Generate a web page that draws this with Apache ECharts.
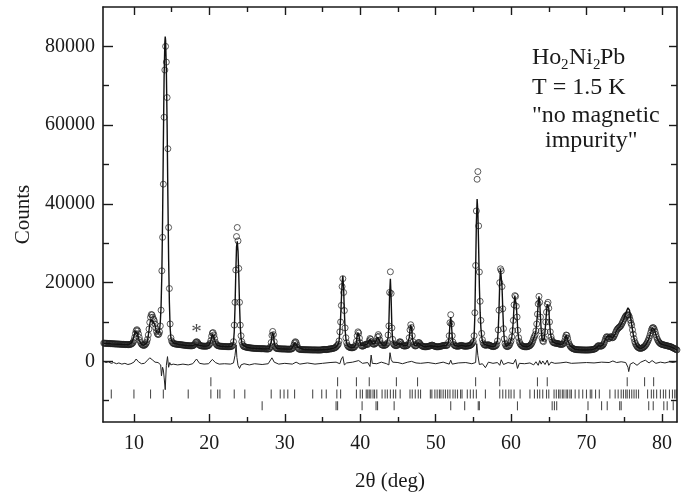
<!DOCTYPE html>
<html><head><meta charset="utf-8">
<script src="https://cdn.jsdelivr.net/npm/echarts@6/dist/echarts.min.js"></script>
<style>html,body{margin:0;padding:0;background:#fff}#c{width:691px;height:497px}</style>
</head><body><div id="c"></div>
<script>
// ---- data ----
const obsStart = 6.0, obsStep = 0.1;
const observedCounts = [
4650,4580,4620,4540,4600,4560,4510,4580,4530,4490,
4520,4460,4500,4430,4470,4410,4450,4390,4420,4380,
4400,4350,4380,4320,4350,4300,4330,4280,4310,4260,
4290,4240,4270,4230,4260,4300,4350,4450,4600,4850,
5300,6100,7100,7800,8050,7750,7000,6100,5300,4750,
4400,4200,4100,4050,4100,4250,4500,4900,5600,6700,
8200,9900,11200,11900,11800,11200,10700,10300,9500,8500,
7600,7000,6800,6900,7500,9000,13000,23000,31500,45000,
62000,74000,80000,76000,67000,54000,34000,18500,9500,6000,
5200,4800,4600,4500,4450,4400,4380,4350,4320,4300,
4280,4250,4230,4200,4180,4150,4130,4100,4080,4050,
4030,4000,3980,3970,3960,3950,3940,3950,3980,4050,
4200,4500,4850,5000,4900,4600,4300,4100,4000,3950,
3900,3880,3870,3860,3850,3850,3860,3900,3950,4050,
4250,4600,5300,6400,7200,7300,6700,5800,4900,4400,
4150,4000,3950,3900,3870,3850,3840,3820,3800,3780,
3770,3760,3750,3740,3730,3720,3720,3730,3750,3800,
3850,4100,5000,9200,15000,23200,31700,34000,30600,23600,
15000,9200,6500,5000,4300,3900,3750,3700,3650,3600,
3550,3500,3480,3450,3430,3400,3380,3360,3340,3320,
3300,3290,3280,3270,3260,3250,3240,3230,3220,3210,
3200,3250,3200,3180,3170,3160,3150,3140,3150,3180,
3300,3700,4800,6600,7600,6800,5000,3900,3450,3300,
3250,3220,3200,3190,3180,3170,3160,3150,3150,3150,
3140,3130,3120,3110,3100,3100,3100,3100,3120,3150,
3250,3500,4100,4700,5000,4800,4200,3600,3250,3100,
3050,3020,3000,2990,2980,2970,2960,2950,2950,2940,
2940,2930,2930,2920,2920,2910,2910,2900,2900,2900,
2900,2900,2890,2890,2880,2880,2880,2880,2900,2920,
2950,3000,3050,3020,3000,2980,3000,3050,3100,3150,
3150,3150,3200,3250,3300,3350,3400,3500,3650,3900,
4100,4400,5200,7500,10000,14200,19000,21000,17500,12900,
8500,6000,4700,4100,3800,3650,3550,3500,3450,3450,
3450,3500,3600,3800,4200,5100,6500,7500,7200,5900,
4700,4100,3900,3850,3900,4000,4150,4300,4350,4300,
4300,4600,5200,5800,5600,5000,4600,4400,4350,4400,
4500,4700,5200,6200,6800,6400,5400,4700,4300,4150,
4100,4050,4050,4100,4200,4350,4700,6700,9000,17500,
22750,17250,8500,5600,4500,4200,4050,4000,4000,4050,
4200,4500,4900,5000,4800,4400,4100,3950,3900,3900,
3900,3950,4000,4150,4500,6000,8000,9300,8600,6500,
5000,4300,4000,3900,3950,4100,4450,4750,4800,4550,
4250,4050,3900,3800,3750,3720,3700,3700,3720,3750,
3800,3850,3900,3950,4050,4150,4100,4000,3900,3800,
3750,3700,3700,3700,3720,3750,3800,3850,3900,3950,
4000,4050,4100,4050,4000,4050,4250,4800,6500,9800,
11850,9500,6500,4900,4300,4050,3950,3900,3850,3850,
3850,3900,3950,4000,4050,4000,3950,3900,3850,3850,
3850,3850,3900,3900,3950,4000,4100,4200,4400,4700,
5000,6500,12350,24350,38200,46250,48200,34400,22700,15250,
10400,7100,5500,4700,4300,4150,4100,4100,4150,4200,
4200,4150,4050,3950,3850,3800,3750,3750,3800,3900,
4000,4300,5200,8000,13000,20000,23500,23000,19000,13350,
8300,5700,4500,4000,3800,3750,3800,3950,4200,4700,
5200,6200,7800,10400,14350,16700,16500,14000,11250,7900,
6000,5000,4500,4200,4000,3900,3800,3750,3700,3700,
3700,3700,3750,3800,3900,4000,4200,4450,4800,5300,
5900,6300,6800,7750,9500,12000,14600,16500,15000,11250,
7700,5900,5200,5000,5800,7500,10000,12500,14500,15000,
13500,10000,7500,6250,5500,5000,4800,4700,4650,4600,
4600,4550,4500,4450,4400,4350,4300,4300,4350,4400,
4700,5200,6100,6700,6600,5900,5000,4400,4000,3700,
3500,3350,3250,3150,3100,3050,3000,2980,2960,2950,
2940,2930,2920,2910,2900,2900,2900,2890,2880,2880,
2880,2880,2890,2900,2900,2920,2940,2960,3000,3050,
3100,3150,3250,3400,3650,3900,4000,3950,3850,3850,
3900,4000,4200,4500,5000,5600,6100,6300,6100,5800,
5800,6100,6300,6200,6000,6000,6200,6600,7000,7500,
7900,8200,8400,8600,8750,8900,9200,9600,10000,10400,
10800,11200,11500,11700,11850,11800,11700,11200,10500,9700,
9200,8000,6900,5800,5000,4500,4100,3800,3600,3450,
3350,3300,3300,3350,3400,3500,3650,3800,4000,4300,
4600,5000,5400,5900,6500,7200,7900,8400,8600,8500,
8100,7500,6800,6100,5600,5200,4900,4700,4500,4400,
4300,4250,4200,4150,4100,4050,4000,3950,3900,3850,
3800,3750,3700,3600,3500,3400,3300,3200,3100,3000,
2900
];
const calculated = [[6,4600],[6.5,4550],[7,4450],[7.5,4380],[8,4330],[8.5,4280],[9,4250],[9.3,4250],[9.5,4320],[9.7,4700],[9.9,5700],[10.0,6300],[10.1,7100],[10.2,7700],[10.3,7900],[10.4,7600],[10.5,6900],[10.6,6000],[10.7,5300],[10.8,4800],[11.0,4300],[11.3,4080],[11.5,4150],[11.7,4700],[11.8,5300],[11.9,6500],[12.0,7900],[12.1,9400],[12.2,10400],[12.3,10700],[12.4,10500],[12.5,10300],[12.6,10200],[12.7,9900],[12.8,9200],[12.9,8200],[13.0,7300],[13.1,6900],[13.2,6800],[13.3,7200],[13.4,8000],[13.5,10000],[13.6,14000],[13.7,22000],[13.8,36000],[13.9,55000],[14.0,72000],[14.1,81000],[14.15,82500],[14.2,81500],[14.3,74000],[14.4,60000],[14.5,42000],[14.6,26000],[14.7,15000],[14.8,8500],[14.9,6000],[15.0,5200],[15.3,4600],[15.7,4450],[16,4250],[16.5,4150],[17,4000],[17.5,3950],[17.8,3960],[18.0,4050],[18.2,4300],[18.3,4400],[18.4,4350],[18.6,4100],[18.8,3950],[19.2,3880],[19.6,3870],[19.9,4000],[20.1,4500],[20.2,5200],[20.3,6200],[20.4,6900],[20.5,7000],[20.6,6500],[20.7,5600],[20.8,4800],[21.0,4100],[21.5,3850],[22,3780],[22.5,3730],[23.0,3850],[23.1,4050],[23.2,4900],[23.3,7500],[23.4,13500],[23.5,22000],[23.6,29000],[23.7,30500],[23.8,28000],[23.9,22000],[24.0,14500],[24.1,8800],[24.2,6000],[24.3,4800],[24.4,4200],[24.6,3800],[25,3550],[25.5,3400],[26,3300],[26.5,3250],[27,3200],[27.5,3170],[27.9,3200],[28.0,3300],[28.1,3700],[28.2,4900],[28.3,6500],[28.4,7300],[28.5,6600],[28.6,4900],[28.7,3900],[28.8,3450],[29,3250],[29.5,3180],[30,3140],[30.5,3100],[30.9,3150],[31.1,3500],[31.2,4100],[31.3,4650],[31.4,4900],[31.5,4750],[31.6,4200],[31.7,3600],[31.9,3100],[32.5,2970],[33,2940],[33.5,2910],[34,2900],[34.5,2880],[35,2950],[35.2,3050],[35.5,2990],[36,3150],[36.5,3350],[36.8,3650],[37.0,4100],[37.1,4400],[37.2,5200],[37.3,7500],[37.4,11000],[37.5,15500],[37.6,20000],[37.7,21700],[37.8,18500],[37.9,12500],[38.0,8000],[38.1,5800],[38.2,4600],[38.4,3800],[38.8,3480],[39.2,3600],[39.4,4200],[39.5,5100],[39.6,6400],[39.7,7300],[39.8,7100],[39.9,5900],[40.0,4700],[40.1,4100],[40.3,3850],[40.6,4150],[40.9,4350],[41.1,4700],[41.3,5600],[41.4,5500],[41.6,4600],[41.9,4400],[42.1,4700],[42.3,6100],[42.4,6600],[42.5,6300],[42.7,4700],[43.0,4100],[43.4,4150],[43.6,4600],[43.7,6000],[43.8,9500],[43.9,17000],[44.0,21000],[44.1,16000],[44.2,8500],[44.3,5500],[44.5,4200],[44.8,4050],[45.1,4500],[45.3,5000],[45.5,4400],[45.8,3950],[46.2,4000],[46.4,4500],[46.5,6000],[46.6,8000],[46.7,9200],[46.8,8600],[46.9,6500],[47.0,5000],[47.2,4000],[47.5,4100],[47.7,4700],[47.8,4800],[48.0,4200],[48.4,3750],[48.8,3730],[49.3,3950],[49.5,4150],[49.8,3850],[50.2,3700],[50.6,3780],[51.0,4000],[51.4,4000],[51.6,4250],[51.7,4800],[51.8,6500],[51.9,9500],[52.0,11250],[52.1,9300],[52.2,6300],[52.3,4800],[52.5,4050],[53,3850],[53.4,4050],[54,3850],[54.4,3950],[54.7,4200],[54.9,4700],[55.0,5000],[55.1,6300],[55.2,11500],[55.3,23000],[55.4,35000],[55.5,41250],[55.6,38000],[55.7,29000],[55.8,19000],[55.9,12500],[56.0,8500],[56.1,6400],[56.2,5200],[56.4,4400],[56.8,4100],[57.0,4150],[57.5,3750],[57.9,3900],[58.1,4300],[58.2,5200],[58.3,8000],[58.4,13000],[58.5,20000],[58.6,23500],[58.7,23000],[58.8,19000],[58.9,13350],[59.0,8300],[59.1,5700],[59.2,4500],[59.4,3800],[59.6,3800],[59.9,4700],[60.0,5200],[60.1,6200],[60.2,7800],[60.3,10400],[60.4,14350],[60.5,16700],[60.6,16500],[60.7,14000],[60.8,11000],[60.9,7500],[61.0,5800],[61.2,4500],[61.5,3900],[62.0,3700],[62.4,3900],[62.7,4400],[62.9,5300],[63.1,6300],[63.3,7750],[63.5,12000],[63.6,14600],[63.7,16500],[63.8,15000],[63.9,11250],[64.0,7700],[64.1,5900],[64.2,5200],[64.3,5000],[64.4,5800],[64.5,7500],[64.6,10000],[64.7,12500],[64.8,14500],[64.9,15000],[65.0,13500],[65.1,10000],[65.2,7500],[65.3,6250],[65.5,5000],[65.9,4600],[66.5,4350],[66.9,4400],[67.1,5200],[67.3,6700],[67.4,6600],[67.6,5000],[67.8,4000],[68.0,3500],[68.5,3050],[69,2940],[69.5,2900],[70,2880],[70.5,2920],[71,3100],[71.3,3400],[71.6,4000],[71.9,3850],[72.2,4200],[72.5,5600],[72.7,6300],[72.9,5800],[73.2,6300],[73.5,6000],[73.8,7000],[74.1,8200],[74.4,8750],[74.7,9700],[75.0,11000],[75.3,12700],[75.5,13600],[75.6,13750],[75.7,13000],[75.9,10500],[76.1,8000],[76.3,5800],[76.5,4500],[76.7,3800],[77.0,3350],[77.3,3330],[77.6,3650],[77.9,4300],[78.2,5400],[78.5,7200],[78.7,8400],[78.8,8600],[79.0,8100],[79.2,6800],[79.4,5600],[79.7,4700],[80.0,4300],[80.5,4050],[81.0,3800],[81.5,3400],[82,2900]];
const difference = [[6,0],[6.3,-300],[6.6,-100],[7.0,-500],[7.3,-300],[7.7,-600],[8.0,-400],[8.4,-700],[8.8,-500],[9.2,-800],[9.6,-600],[10.0,-200],[10.3,600],[10.6,-100],[11.0,-600],[11.4,-500],[11.8,300],[12.1,900],[12.3,1300],[12.5,300],[12.8,-200],[13.0,-700],[13.2,-300],[13.4,-300],[13.55,-900],[13.65,-3700],[13.8,-1500],[13.9,-2200],[14.0,-4000],[14.15,-7200],[14.3,-1000],[14.45,1200],[14.6,-1500],[14.75,-300],[14.9,-900],[15.2,-700],[15.8,-900],[16.5,-700],[17.2,-900],[17.8,-600],[18.3,600],[18.7,-500],[19.3,-700],[19.9,-600],[20.4,500],[20.8,-300],[21.3,-700],[22.0,-600],[22.8,-700],[23.2,-400],[23.4,1500],[23.55,4200],[23.65,1000],[23.8,-1000],[24.0,-1800],[24.2,-900],[24.6,-600],[25.3,-900],[26,-600],[27,-800],[27.8,-600],[28.3,900],[28.6,-200],[29.2,-700],[30,-500],[31,-700],[31.5,-200],[32,-700],[33,-400],[34,-700],[35,-500],[36,-300],[36.8,-200],[37.3,-600],[37.5,600],[37.7,1200],[37.9,-900],[38.2,-400],[39,-200],[39.8,200],[40.3,-500],[41.0,-300],[41.3,-1300],[41.45,1600],[41.6,-500],[42.2,-600],[42.8,-200],[43.5,-600],[43.8,-900],[43.95,2200],[44.1,500],[44.3,-200],[45,-300],[45.6,-600],[46.3,-200],[46.8,0],[47.4,-400],[48,-500],[49,-300],[50,-600],[51,-200],[51.8,-700],[52.0,300],[52.2,-700],[53,-400],[54,-300],[54.8,-600],[55.3,-300],[55.45,4500],[55.6,1500],[55.8,-800],[56.2,-600],[56.6,-1600],[57.0,-200],[57.6,-500],[58.2,-300],[58.5,-1000],[58.7,400],[59.0,-800],[59.6,-300],[60.3,-600],[60.6,500],[60.85,-1800],[61.1,-500],[61.8,-600],[62.5,-400],[63.0,-900],[63.3,-100],[63.6,-1000],[63.8,200],[64.0,-700],[64.2,100],[64.5,-800],[64.8,300],[65.0,-1000],[65.3,-200],[65.8,-500],[66.5,-400],[67.3,-200],[68,-500],[69,-400],[70,-300],[71,-400],[72,-200],[73,-300],[73.5,100],[74,-300],[74.6,-100],[75.2,-300],[75.5,-1500],[75.6,-2600],[75.8,-700],[76.2,-300],[76.7,-1000],[77.2,-200],[77.8,300],[78.3,-400],[78.7,200],[79.2,-500],[79.8,-200],[80.4,-400],[81,-100],[81.5,-300],[82,0]];
const braggRow1 = [20.2,37.0,39.5,41.2,44.8,47.6,55.3,58.5,63.5,64.8,75.4,77.7,78.9];
const braggRow2 = [7.0,10.0,12.2,13.9,17.2,20.2,21.1,21.4,23.3,24.7,28.2,29.4,29.9,30.4,31.3,33.7,34.9,35.5,36.9,37.4,39.5,40.0,40.3,40.8,41.0,41.2,41.4,41.7,41.9,42.2,42.9,43.3,43.6,44.0,44.4,44.7,45.3,46.6,46.9,47.3,47.7,48.0,49.3,49.5,49.9,50.2,50.5,50.7,51.0,51.3,51.6,51.9,52.3,52.6,52.9,53.3,53.5,54.2,54.6,55.0,55.4,56.6,58.5,58.9,59.3,59.7,60.0,60.4,61.2,62.5,63.1,63.5,63.8,64.2,64.7,65.0,65.7,66.0,66.3,66.5,66.8,67.0,67.3,67.5,67.8,68.0,68.5,69.0,69.5,70.0,70.5,70.7,71.2,71.7,73.1,73.8,74.2,74.6,74.9,75.2,75.4,75.7,76.0,76.3,76.6,76.9,78.1,78.6,78.9,79.3,79.8,80.2,80.5,81.0,81.4,81.7,81.9];
const braggRow3 = [27.0,36.8,37.0,40.25,42.1,42.3,44.5,52.0,53.85,55.65,55.8,60.85,65.45,65.75,66.05,70.2,72.0,72.75,74.4,74.6,78.25,78.85,80.25,80.7,81.5];
const xMajorTicks = [10,20,30,40,50,60,70,80];
const xMinorTicks = [15,25,35,45,55,65,75];
const yMajorTicks = [0,20000,40000,60000,80000];
const yMinorTicks = [-10000,10000,30000,50000,70000];

// ---- chart ----
const serif = 'Liberation Serif, Times New Roman, serif';
const ink = '#1a1a1a';
const X_MIN = 5.9, X_MAX = 82.0, Y_MIN = -15400, Y_MAX = 90000;
const observed = observedCounts.map((v, i) => [+(obsStart + i * obsStep).toFixed(2), v]);

function xAx(pos, ticks, len, showLine, labels) {
  return {
    type: 'value', min: X_MIN, max: X_MAX, position: pos,
    splitLine: { show: false },
    axisLine: { show: showLine, onZero: false, lineStyle: { color: ink, width: 1.6 } },
    axisTick: { show: true, inside: true, length: len, customValues: ticks, lineStyle: { color: ink, width: 1.4 } },
    axisLabel: labels ? { show: true, customValues: ticks, formatter: v => String(v), fontFamily: serif, fontSize: 20, color: ink, margin: 12 } : { show: false }
  };
}
function yAx(pos, ticks, len, showLine, labels) {
  return {
    type: 'value', min: Y_MIN, max: Y_MAX, position: pos,
    splitLine: { show: false },
    axisLine: { show: showLine, onZero: false, lineStyle: { color: ink, width: 1.6 } },
    axisTick: { show: true, inside: true, length: len, customValues: ticks, lineStyle: { color: ink, width: 1.4 } },
    axisLabel: labels ? { show: true, customValues: ticks, formatter: v => String(v), fontFamily: serif, fontSize: 20, color: ink, margin: 8 } : { show: false }
  };
}
const xAxes = [
  Object.assign(xAx('bottom', xMajorTicks, 8, true, true), {
    name: '2θ (deg)', nameLocation: 'middle', nameGap: 49,
    nameTextStyle: { fontFamily: serif, fontSize: 21, color: ink }
  }),
  xAx('bottom', xMinorTicks, 5, false, false),
  xAx('top', xMajorTicks, 8, true, false),
  xAx('top', xMinorTicks, 5, false, false)
];
const yAxes = [
  Object.assign(yAx('left', yMajorTicks, 10, true, true), {
    name: 'Counts', nameLocation: 'middle', nameGap: 65, nameRotate: 90,
    nameTextStyle: { fontFamily: serif, fontSize: 21, color: ink }
  }),
  yAx('left', yMinorTicks, 6, false, false),
  yAx('right', yMajorTicks, 8, true, false),
  yAx('right', yMinorTicks, 6, false, false)
];

const tickSeries = (row, level) => ({
  type: 'scatter', silent: true, symbol: 'rect', symbolSize: [1.1, 9],
  itemStyle: { color: '#222' }, z: 2,
  data: row.map(x => [x, level])
});

const chart = echarts.init(document.getElementById('c'), null, { renderer: 'canvas' });
chart.setOption({
  animation: false,
  backgroundColor: '#fff',
  grid: { left: 103, right: 14, top: 7, bottom: 69, containLabel: false },
  xAxis: xAxes,
  yAxis: yAxes,
  series: [
    tickSeries(braggRow1, -5200),
    tickSeries(braggRow2, -8300),
    tickSeries(braggRow3, -11300),
    { type: 'line', silent: true, data: difference, showSymbol: false, symbol: 'none',
      lineStyle: { color: '#222', width: 1 }, z: 3 },
    { type: 'scatter', silent: true, data: observed, symbol: 'circle', symbolSize: 6,
      itemStyle: { color: 'rgba(255,255,255,0)', borderColor: '#1e1e1e', borderWidth: 0.9 }, z: 4 },
    { type: 'line', silent: true, data: calculated, showSymbol: false, symbol: 'none',
      lineStyle: { color: '#111', width: 1.4 }, z: 5 },
    { type: 'scatter', silent: true, data: [[18.3, 7300]], symbolSize: 0, z: 6,
      label: { show: true, formatter: '*', position: 'inside', fontFamily: serif, fontSize: 21, color: ink } }
  ],
  graphic: [
    { type: 'text', left: 532, top: 46, style: { text: 'Ho', font: '24px ' + serif, fill: ink } },
    { type: 'text', left: 561, top: 58, style: { text: '2', font: '15px ' + serif, fill: ink } },
    { type: 'text', left: 569, top: 46, style: { text: 'Ni', font: '24px ' + serif, fill: ink } },
    { type: 'text', left: 593, top: 58, style: { text: '2', font: '15px ' + serif, fill: ink } },
    { type: 'text', left: 600, top: 46, style: { text: 'Pb', font: '24px ' + serif, fill: ink } },
    { type: 'text', left: 532, top: 76, style: { text: 'T = 1.5 K', font: '24px ' + serif, fill: ink } },
    { type: 'text', left: 532, top: 104, style: { text: '"no magnetic', font: '24px ' + serif, fill: ink } },
    { type: 'text', left: 545, top: 129, style: { text: 'impurity"', font: '24px ' + serif, fill: ink } }
  ]
});
</script>
</body></html>
